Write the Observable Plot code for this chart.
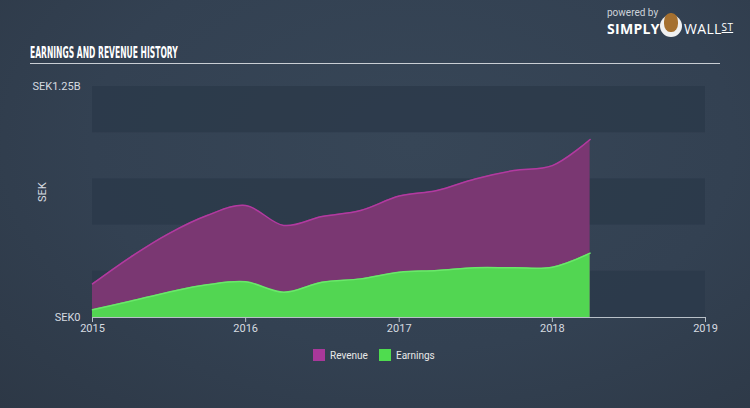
<!DOCTYPE html>
<html><head><meta charset="utf-8">
<script src="https://cdn.jsdelivr.net/npm/d3@7"></script>
<script src="https://cdn.jsdelivr.net/npm/@observablehq/plot@0.6"></script>
<style>
body{margin:0;background:#2f3b4a;}
#wrap{position:relative;width:750px;height:408px;overflow:hidden;background:radial-gradient(ellipse at 55% 35%, #374657 0%, #334152 55%, #2d3846 100%);font-family:Roboto,"Open Sans",sans-serif;}
#chart{position:absolute;left:0;top:0;}
.title{position:absolute;left:30px;top:44px;color:#fff;font:bold 15px "DejaVu Sans",sans-serif;white-space:nowrap;transform-origin:0 0;}
.rule{position:absolute;left:30px;top:63px;width:690px;height:1px;background:#c9ced4}
.legend{position:absolute;top:349px;font-size:10px;color:#e8e8e8;display:flex;align-items:center;gap:5px;white-space:nowrap}
.sw{width:12px;height:12px;display:inline-block}
.logo{position:absolute;left:607px;top:6px;color:#fff;white-space:nowrap}
</style></head>
<body>
<div id="wrap">
  <div id="chart"></div>
  <div class="title" id="title">EARNINGS AND REVENUE HISTORY</div>
  <div class="rule"></div>
  <div class="legend" style="left:313px"><span class="sw" style="background:#a8389a"></span>Revenue</div>
  <div class="legend" style="left:379px"><span class="sw" style="background:#4fdc4f"></span>Earnings</div>
  <div class="logo">
    <div style="position:absolute;left:0;top:1px;font-size:10px;color:#cdd3da;">powered by</div>
    <div style="position:absolute;left:0;top:13px;font:bold 14px 'Open Sans',sans-serif;letter-spacing:0.3px">SIMPLY</div>
    <div style="position:absolute;left:53px;top:9px;width:22px;height:22px;border-radius:50%;background:#f0f0f0;"></div>
    <div style="position:absolute;left:57px;top:7px;width:14px;height:19px;border-radius:45%;background:#a5702f;"></div>
    <div style="position:absolute;left:77px;top:13px;font:14px 'Open Sans',sans-serif;letter-spacing:0.3px">WALL<span style="font-size:10px;text-decoration:underline;vertical-align:3px">ST</span></div>
  </div>
</div>
<script>
const dates = ["2015-01-01","2015-04-01","2015-07-01","2015-10-01","2016-01-01","2016-04-01","2016-07-01","2016-10-01","2017-01-01","2017-04-01","2017-07-01","2017-10-01","2018-01-01","2018-04-01"];
const revenue = [0.182,0.326,0.453,0.552,0.606,0.498,0.546,0.579,0.657,0.687,0.75,0.795,0.822,0.963];
const earnings = [0.042,0.088,0.137,0.177,0.193,0.137,0.191,0.209,0.245,0.254,0.269,0.269,0.272,0.348];
const bandLow = [0, 0.5, 1.0];
const bandHigh = [0.25, 0.75, 1.25];
const yTicks = [0, 1.25];
const yTickLabels = ["SEK0", "SEK1.25B"];
const xTicks = ["2015-01-01","2016-01-01","2017-01-01","2018-01-01","2019-01-01"];

const data = dates.map((d,i)=>({date:new Date(d), revenue:revenue[i], earnings:earnings[i]}));
const bands = bandLow.map((b,i)=>({y1:b, y2:bandHigh[i], x1:new Date(xTicks[0]), x2:new Date(xTicks[xTicks.length-1])}));
const xt = xTicks.map(d=>new Date(d));

const plot = Plot.plot({
  width: 750, height: 408,
  marginLeft: 92, marginRight: 45, marginTop: 86, marginBottom: 91,
  style: {background: "transparent", color: "#d6dbe0", fontSize: "11px", fontFamily: "Roboto, 'Open Sans', sans-serif"},
  x: {type: "time", domain: [xt[0], xt[xt.length-1]], label: null},
  y: {domain: [0, 1.25], label: null},
  marks: [
    Plot.rect(bands, {x1:"x1", x2:"x2", y1:"y1", y2:"y2", fill:"#2c3a4a", fillOpacity:0.85}),
    Plot.areaY(data, {x:"date", y:"revenue", fill:"#7a3772", curve:"catmull-rom"}),
    Plot.lineY(data, {x:"date", y:"revenue", stroke:"#b23aa0", strokeWidth:1.5, curve:"catmull-rom"}),
    Plot.areaY(data, {x:"date", y:"earnings", fill:"#52d652", curve:"catmull-rom"}),
    Plot.lineY(data, {x:"date", y:"earnings", stroke:"#6ae86a", strokeWidth:1.5, curve:"catmull-rom"}),
    Plot.ruleY([0], {x1: xt[0], x2: xt[xt.length-1], stroke:"#b8c0c8", strokeWidth:1}),
    Plot.axisX({ticks: xt, tickFormat: d3.utcFormat("%Y"), tickSize: 5, stroke:"#b8c0c8", fill:"#d6dbe0", tickPadding: 2}),
    Plot.axisY({ticks: yTicks, tickFormat: (d)=>yTickLabels[yTicks.indexOf(d)], tickSize: 0, tickPadding: 12, fill:"#d6dbe0", label: null}),
    Plot.text(["SEK"], {frameAnchor:"left", dx:-50, dy:0, rotate:-90, fill:"#d6dbe0", fontSize:11})
  ]
});
document.getElementById("chart").appendChild(plot);
const t = document.getElementById("title");
t.style.transform = `scaleX(${148 / t.offsetWidth})`;
</script>
</body></html>
